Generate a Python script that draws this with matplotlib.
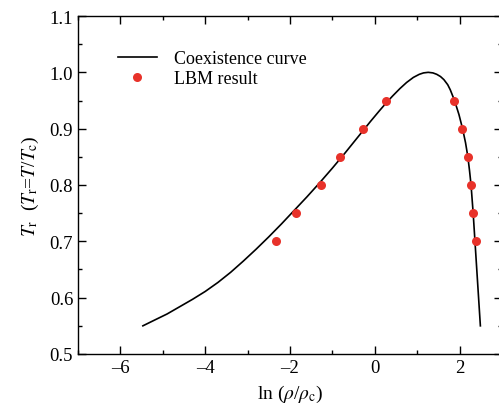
import matplotlib
matplotlib.use("Agg")
import matplotlib.pyplot as plt
from matplotlib.ticker import MultipleLocator

plt.rcParams["font.family"] = ["Liberation Serif", "DejaVu Serif"]
plt.rcParams["mathtext.fontset"] = "stix"

# Coexistence curve: ln(rho/rho_c) vs T_r
curve_x = [-5.47, -5.2, -4.9, -4.6, -4.3, -4.0, -3.7, -3.4, -3.1, -2.8, -2.5,
           -2.2, -1.9, -1.6, -1.3, -1.0, -0.7, -0.4, -0.1, 0.1, 0.26, 0.42,
           0.59, 0.75, 0.91, 1.05, 1.15, 1.26, 1.37, 1.46, 1.55, 1.63, 1.72,
           1.78, 1.88, 1.985, 2.07, 2.14, 2.195, 2.235, 2.27, 2.295, 2.32,
           2.3625, 2.422, 2.49]
curve_t = [0.550, 0.560, 0.571, 0.584, 0.597, 0.611, 0.627, 0.645, 0.665, 0.686, 0.708,
           0.731, 0.755, 0.779, 0.804, 0.830, 0.857, 0.885, 0.913, 0.931, 0.945, 0.958,
           0.971, 0.982, 0.991, 0.9965, 0.999, 1.000, 0.999, 0.9965, 0.9925, 0.987, 0.978,
           0.969, 0.950, 0.925, 0.900, 0.875, 0.850, 0.825, 0.800, 0.775, 0.750,
           0.700, 0.630, 0.550]

# LBM simulation points
lbm_x = [-2.32, -1.86, -1.26, -0.83, -0.27, 0.26,
         1.87, 2.05, 2.19, 2.26, 2.31, 2.38]
lbm_t = [0.70, 0.75, 0.80, 0.85, 0.90, 0.95,
         0.95, 0.90, 0.85, 0.80, 0.75, 0.70]

fig = plt.figure(figsize=(4.99, 4.10), dpi=100)
ax = fig.add_axes([78 / 499, (410 - 355) / 410, (502 - 78) / 499, (355 - 17) / 410])

ax.plot(curve_x, curve_t, color="black", lw=1.2, label="Coexistence curve")
ax.plot(lbm_x, lbm_t, "o", color="#e8322a", ms=6.5, mec="none", label="LBM result")

ax.set_xlim(-7, 3)
ax.set_ylim(0.5, 1.1)
ax.xaxis.set_major_locator(MultipleLocator(2))
ax.xaxis.set_minor_locator(MultipleLocator(1))
ax.yaxis.set_major_locator(MultipleLocator(0.1))
ax.yaxis.set_minor_locator(MultipleLocator(0.05))
ax.xaxis.set_major_formatter(matplotlib.ticker.FuncFormatter(
    lambda v, p: ("\u2013%d" % abs(v)) if v < 0 else "%d" % v))
ax.yaxis.set_major_formatter(matplotlib.ticker.FormatStrFormatter("%.1f"))

ax.tick_params(which="both", direction="in", top=True, right=True, labelsize=13.5)
ax.tick_params(which="major", length=5.5, width=1)
ax.tick_params(which="minor", length=3, width=1)
for s in ax.spines.values():
    s.set_linewidth(1)

ax.set_xlabel(r"ln ($\rho$/$\rho_\mathrm{c}$)", fontsize=14, labelpad=5)
ax.set_ylabel(r"$T_\mathrm{r}$  ($T_\mathrm{r}$=$T$/$T_\mathrm{c}$)", fontsize=14, labelpad=6)

ax.legend(loc="upper left", bbox_to_anchor=(0.055, 0.947), frameon=False,
          fontsize=13, handlelength=2.2, handletextpad=0.95, labelspacing=0.15)

fig.savefig("out.png", dpi=100)
